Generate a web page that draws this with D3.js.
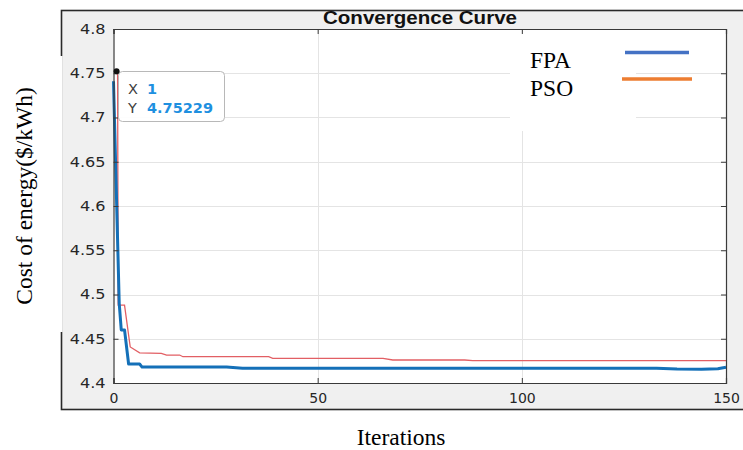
<!DOCTYPE html>
<html>
<head>
<meta charset="utf-8">
<script src="https://cdn.jsdelivr.net/npm/d3@7"></script>
<style>
  html, body { margin: 0; padding: 0; background: #ffffff; }
  svg { display: block; }
</style>
</head>
<body>
<svg id="chart" width="743" height="450"></svg>
<script>
// ---- data ----
const titleText = "Convergence Curve";
const xLabel = "Iterations";
const yLabel = "Cost of energy($/kWh)";
const seriesNames = ["FPA", "PSO"];

const fpaIter = [0, 1.4, 1.9, 2.7, 3.7, 6.4, 7.0, 27.7, 31.6, 133, 138, 144, 148, 150];
const fpaCost = [4.741, 4.490, 4.460, 4.460, 4.4215, 4.4215, 4.418, 4.418, 4.4167, 4.4167, 4.4158, 4.4155, 4.4160, 4.4177];

const psoIter = [1, 1.15, 2.7, 4.1, 6.4, 11.7, 13, 16.2, 17, 38, 39, 66, 68.4, 86, 88, 150];
const psoCost = [4.75229, 4.488, 4.488, 4.4407, 4.434, 4.4335, 4.4316, 4.4316, 4.4297, 4.4297, 4.4279, 4.4279, 4.426, 4.426, 4.4252, 4.4252];

const xTicks = [0, 50, 100, 150];
const yTicks = [4.4, 4.45, 4.5, 4.55, 4.6, 4.65, 4.7, 4.75, 4.8];
const yTickLabels = ["4.4", "4.45", "4.5", "4.55", "4.6", "4.65", "4.7", "4.75", "4.8"];

const tipX = 1, tipY = 4.75229;

// ---- layout ----
const svg = d3.select("#chart");
const L = 113.5, R = 726, T = 29, B = 383;
const x = d3.scaleLinear().domain([0, 150]).range([L, R]);
const y = d3.scaleLinear().domain([4.4, 4.8]).range([B, T]);

// figure frame (grey MATLAB window)
svg.append("rect").attr("x", 61.5).attr("y", 10.5).attr("width", 720).attr("height", 399)
  .attr("fill", "#f0f0f0").attr("stroke", "#2a2a2a").attr("stroke-width", 1.6);
// white patch hiding part of left border
svg.append("rect").attr("x", 0).attr("y", 56).attr("width", 62.6).attr("height", 276).attr("fill", "#ffffff");

// plot area
svg.append("rect").attr("x", L).attr("y", T).attr("width", R - L).attr("height", B - T).attr("fill", "#ffffff");

// grid
const grid = svg.append("g").attr("stroke", "#e4e4e4").attr("stroke-width", 1);
yTicks.filter(d => d > 4.4 && d < 4.8).forEach(d => {
  grid.append("line").attr("x1", L).attr("x2", R).attr("y1", Math.round(y(d)) + 0.5).attr("y2", Math.round(y(d)) + 0.5);
});
xTicks.filter(d => d > 0 && d < 150).forEach(d => {
  grid.append("line").attr("y1", T).attr("y2", B).attr("x1", Math.round(x(d)) + 0.5).attr("x2", Math.round(x(d)) + 0.5);
});

// legend white patch
svg.append("rect").attr("x", 510).attr("y", 33).attr("width", 126).attr("height", 98).attr("fill", "#ffffff");

// curves
const line = d3.line().x(d => x(d[0])).y(d => y(d[1]));
const pso = psoIter.map((v, i) => [v, psoCost[i]]);
const fpa = fpaIter.map((v, i) => [v, fpaCost[i]]);
svg.append("path").datum(pso).attr("d", line).attr("fill", "none")
  .attr("stroke", "#e25f64").attr("stroke-width", 1.3);
svg.append("path").datum(fpa).attr("d", line).attr("fill", "none")
  .attr("stroke", "#1470b8").attr("stroke-width", 3).attr("stroke-linejoin", "round");

// axes
const axCol = "#3a3a3a";
const yAxis = svg.append("g").attr("transform", `translate(${L},0)`)
  .call(d3.axisLeft(y).tickValues(yTicks).tickFormat((d, i) => yTickLabels[i]).tickSize(-5).tickPadding(8));
const xAxis = svg.append("g").attr("transform", `translate(0,${B})`)
  .call(d3.axisBottom(x).tickValues(xTicks).tickFormat(d3.format("d")).tickSize(-5).tickPadding(10.5));
const yAxisR = svg.append("g").attr("transform", `translate(${R},0)`)
  .call(d3.axisRight(y).tickValues(yTicks).tickFormat("").tickSize(-5));
const xAxisT = svg.append("g").attr("transform", `translate(0,${T})`)
  .call(d3.axisTop(x).tickValues(xTicks).tickFormat("").tickSize(-5));
[yAxis, xAxis, yAxisR, xAxisT].forEach(g => {
  g.select(".domain").attr("stroke", axCol).attr("stroke-width", 1.2);
  g.selectAll(".tick line").attr("stroke", axCol);
  g.selectAll(".tick text").attr("fill", "#262626").style("font-family", "DejaVu Sans").style("font-size", "14px");
});
// the reference's tick font is horizontally wider: stretch the y labels a little
yAxis.selectAll(".tick text").each(function () {
  const w = this.getComputedTextLength();
  d3.select(this).attr("textLength", w * 1.15).attr("lengthAdjust", "spacingAndGlyphs");
});

// title
svg.append("text").attr("x", 420).attr("y", 24).attr("text-anchor", "middle")
  .style("font-family", "Liberation Sans, Arial").style("font-weight", "bold").style("font-size", "17.5px")
  .attr("textLength", 194).attr("lengthAdjust", "spacingAndGlyphs")
  .attr("fill", "#111").text(titleText);

// axis labels
svg.append("text").attr("transform", "translate(32,196) rotate(-90)").attr("text-anchor", "middle")
  .style("font-family", "Liberation Serif, Times New Roman").style("font-size", "23.5px").attr("fill", "#000").text(yLabel);
svg.append("text").attr("x", 401).attr("y", 445).attr("text-anchor", "middle")
  .style("font-family", "Liberation Serif, Times New Roman").style("font-size", "23.5px").attr("fill", "#000").text(xLabel);

// legend
const legColors = ["#4472C4", "#ED7D31"];
const legY = [68, 96];
const legLineY = [52.5, 79];
const legLineX = [[625, 689], [622, 692]];
seriesNames.forEach((n, i) => {
  svg.append("text").attr("x", 530).attr("y", legY[i])
    .style("font-family", "Liberation Serif, Times New Roman").style("font-size", "23.5px").attr("fill", "#000").text(n);
  svg.append("line").attr("x1", legLineX[i][0]).attr("x2", legLineX[i][1]).attr("y1", legLineY[i]).attr("y2", legLineY[i])
    .attr("stroke", legColors[i]).attr("stroke-width", 3.5);
});

// data tip
const tip = svg.append("g");
tip.append("rect").attr("x", 118.5).attr("y", 71.5).attr("width", 106).attr("height", 50).attr("rx", 4)
  .attr("fill", "#ffffff").attr("fill-opacity", 0.92).attr("stroke", "#b8b8b8").attr("stroke-width", 1);
tip.append("text").attr("x", 128).attr("y", 94).style("font-family", "DejaVu Sans").style("font-size", "14.5px").attr("fill", "#404040").text("X");
tip.append("text").attr("x", 147).attr("y", 94).style("font-family", "DejaVu Sans").style("font-weight", "bold").style("font-size", "14.5px").attr("fill", "#1e90e0").text(String(tipX));
tip.append("text").attr("x", 128).attr("y", 113).style("font-family", "DejaVu Sans").style("font-size", "14.5px").attr("fill", "#404040").text("Y");
tip.append("text").attr("x", 147).attr("y", 113).style("font-family", "DejaVu Sans").style("font-weight", "bold").style("font-size", "14.5px").attr("fill", "#1e90e0").text(String(tipY));
svg.append("circle").attr("cx", x(tipX) - 1).attr("cy", y(tipY)).attr("r", 3).attr("fill", "#111");
</script>
</body>
</html>
